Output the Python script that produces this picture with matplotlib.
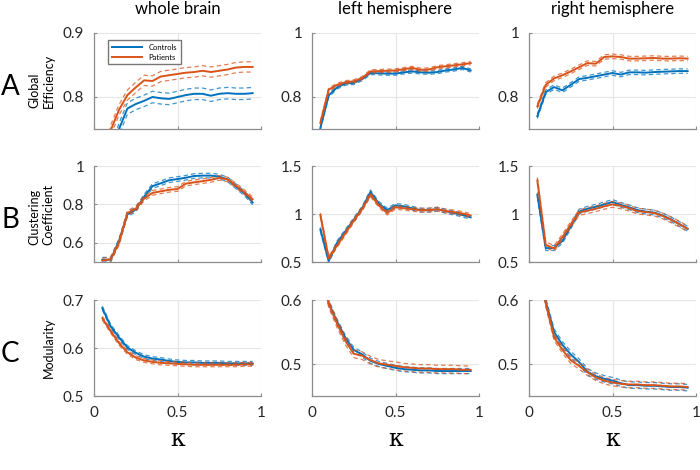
import numpy as np
import matplotlib.pyplot as plt

plt.rcParams['font.family'] = ['Lato', 'DejaVu Sans']

kappa = [0.05, 0.10, 0.15, 0.20, 0.25, 0.30, 0.35, 0.40, 0.45, 0.50,
         0.55, 0.60, 0.65, 0.70, 0.75, 0.80, 0.85, 0.90, 0.95]

# A: global efficiency
ge_whole_ctrl = [0.640, 0.710, 0.750, 0.782, 0.789, 0.794, 0.800, 0.798, 0.797, 0.800,
                 0.803, 0.805, 0.805, 0.802, 0.805, 0.806, 0.805, 0.805, 0.806]
ge_whole_pat = [0.680, 0.748, 0.780, 0.803, 0.815, 0.826, 0.825, 0.832, 0.834, 0.836,
                0.838, 0.839, 0.841, 0.839, 0.841, 0.843, 0.846, 0.847, 0.847]
ge_left_ctrl = [0.703, 0.805, 0.830, 0.842, 0.844, 0.856, 0.875, 0.874, 0.873, 0.873,
                0.877, 0.880, 0.877, 0.876, 0.878, 0.883, 0.886, 0.891, 0.883]
ge_left_pat = [0.719, 0.823, 0.838, 0.846, 0.849, 0.859, 0.880, 0.881, 0.882, 0.883,
               0.887, 0.891, 0.885, 0.886, 0.893, 0.896, 0.899, 0.902, 0.906]
ge_right_ctrl = [0.740, 0.815, 0.831, 0.821, 0.838, 0.856, 0.860, 0.865, 0.870, 0.875,
                 0.870, 0.877, 0.877, 0.876, 0.878, 0.879, 0.880, 0.881, 0.881]
ge_right_pat = [0.771, 0.838, 0.858, 0.868, 0.880, 0.893, 0.906, 0.904, 0.925, 0.927,
                0.925, 0.920, 0.920, 0.921, 0.922, 0.920, 0.920, 0.921, 0.920]

# B: clustering coefficient
cc_whole_ctrl = [0.512, 0.512, 0.610, 0.748, 0.773, 0.840, 0.895, 0.910, 0.926, 0.932,
                 0.939, 0.948, 0.950, 0.950, 0.945, 0.930, 0.894, 0.858, 0.810]
cc_whole_pat = [0.507, 0.515, 0.600, 0.755, 0.778, 0.830, 0.860, 0.868, 0.876, 0.880,
                0.908, 0.915, 0.921, 0.928, 0.938, 0.930, 0.898, 0.864, 0.827]
cc_left_ctrl = [0.84, 0.51, 0.70, 0.82, 0.94, 1.06, 1.23, 1.11, 1.04, 1.09,
                1.08, 1.06, 1.04, 1.04, 1.05, 1.03, 1.01, 0.99, 0.965]
cc_left_pat = [0.99, 0.54, 0.67, 0.80, 0.93, 1.05, 1.20, 1.09, 1.01, 1.07,
               1.06, 1.05, 1.04, 1.04, 1.05, 1.03, 1.02, 1.005, 0.985]
cc_right_ctrl = [1.20, 0.645, 0.645, 0.72, 0.87, 1.025, 1.055, 1.075, 1.10, 1.125,
                 1.095, 1.07, 1.04, 1.025, 1.015, 0.985, 0.945, 0.895, 0.846]
cc_right_pat = [1.35, 0.68, 0.64, 0.76, 0.89, 1.015, 1.035, 1.055, 1.08, 1.10,
                1.085, 1.06, 1.03, 1.02, 1.01, 0.98, 0.94, 0.895, 0.846]

# C: modularity
mod_whole_ctrl = [0.683, 0.645, 0.622, 0.601, 0.590, 0.582, 0.578, 0.576, 0.573, 0.571,
                  0.570, 0.570, 0.569, 0.569, 0.569, 0.568, 0.568, 0.568, 0.568]
mod_whole_pat = [0.662, 0.635, 0.610, 0.591, 0.580, 0.574, 0.571, 0.569, 0.568, 0.567,
                 0.566, 0.565, 0.565, 0.565, 0.565, 0.565, 0.565, 0.566, 0.566]
mod_left_ctrl = [0.670, 0.595, 0.566, 0.541, 0.522, 0.515, 0.505, 0.500, 0.497, 0.494,
                 0.492, 0.491, 0.490, 0.490, 0.489, 0.489, 0.489, 0.489, 0.489]
mod_left_pat = [0.670, 0.594, 0.563, 0.536, 0.516, 0.513, 0.506, 0.501, 0.499, 0.497,
                0.495, 0.494, 0.493, 0.493, 0.492, 0.492, 0.492, 0.491, 0.491]
mod_right_ctrl = [0.700, 0.598, 0.550, 0.530, 0.515, 0.503, 0.488, 0.481, 0.477, 0.474,
                  0.470, 0.467, 0.467, 0.466, 0.466, 0.465, 0.464, 0.464, 0.463]
mod_right_pat = [0.700, 0.595, 0.542, 0.522, 0.506, 0.497, 0.487, 0.479, 0.474, 0.471,
                 0.469, 0.468, 0.468, 0.467, 0.467, 0.466, 0.465, 0.465, 0.464]

# half-width of the dashed bands (controls, patients) per panel
band_ge = [(0.009, 0.008), (0.005, 0.005), (0.007, 0.007)]
band_cc = [(0.012, 0.012), (0.02, 0.02), (0.025, 0.03)]
band_mod = [(0.004, 0.004), (0.004, 0.006), (0.005, 0.005)]

col_titles = ['whole brain', 'left hemisphere', 'right hemisphere']
row_letters = ['A', 'B', 'C']
row_ylabels = ['Global\nEfficiency', 'Clustering\nCoefficient', 'Modularity']

rows = [
    [(ge_whole_ctrl, ge_whole_pat), (ge_left_ctrl, ge_left_pat), (ge_right_ctrl, ge_right_pat)],
    [(cc_whole_ctrl, cc_whole_pat), (cc_left_ctrl, cc_left_pat), (cc_right_ctrl, cc_right_pat)],
    [(mod_whole_ctrl, mod_whole_pat), (mod_left_ctrl, mod_left_pat), (mod_right_ctrl, mod_right_pat)],
]
bands = [band_ge, band_cc, band_mod]
ylims = [[(0.75, 0.9), (0.7, 1.0), (0.7, 1.0)],
         [(0.5, 1.0), (0.5, 1.5), (0.5, 1.5)],
         [(0.5, 0.7), (0.45, 0.6), (0.45, 0.6)]]
yticks = [[[0.8, 0.9], [0.8, 1.0], [0.8, 1.0]],
          [[0.6, 0.8, 1.0], [0.5, 1.0, 1.5], [0.5, 1.0, 1.5]],
          [[0.5, 0.6, 0.7], [0.5, 0.6], [0.5, 0.6]]]
ytlabels = [[['0.8', '0.9'], ['0.8', '1'], ['0.8', '1']],
            [['0.6', '0.8', '1'], ['0.5', '1', '1.5'], ['0.5', '1', '1.5']],
            [['0.5', '0.6', '0.7'], ['0.5', '0.6'], ['0.5', '0.6']]]

blue = '#0072BD'
orange = '#D95319'
W, H = 700, 470
lefts = [94, 312, 529]
tops = [33, 166, 300]
aw, ah = 167, 96

fig = plt.figure(figsize=(7, 4.7), dpi=100)
x = np.array(kappa)

for r in range(3):
    for c in range(3):
        ax = fig.add_axes([lefts[c] / W, 1 - (tops[r] + ah) / H, aw / W, ah / H])
        ctrl, pat = rows[r][c]
        bc, bp = bands[r][c]
        for vals, b, col, lab in [(ctrl, bc, blue, 'Controls'), (pat, bp, orange, 'Patients')]:
            v = np.array(vals)
            ax.plot(x, v, color=col, lw=1.4, label=lab)
            ax.plot(x, v + b, color=col, lw=0.9, ls=(0, (3.5, 2.5)), alpha=0.75)
            ax.plot(x, v - b, color=col, lw=0.9, ls=(0, (3.5, 2.5)), alpha=0.75)
        ax.set_xlim(0, 1)
        ax.set_ylim(*ylims[r][c])
        ax.set_xticks([0, 0.5, 1])
        ax.set_yticks(yticks[r][c])
        ax.set_yticklabels(ytlabels[r][c])
        if r == 2:
            ax.set_xticklabels(['0', '0.5', '1'])
            ax.set_xlabel('κ', fontsize=17, family='DejaVu Serif', labelpad=6)
        else:
            ax.set_xticklabels([])
        ax.grid(True, color='#e6e6e6', lw=0.8)
        ax.set_axisbelow(True)
        for s in ['top', 'right']:
            ax.spines[s].set_visible(False)
        for s in ['left', 'bottom']:
            ax.spines[s].set_color('#8c8c8c')
            ax.spines[s].set_linewidth(0.9)
        ax.tick_params(direction='in', length=2.5, color='#8c8c8c',
                       labelsize=11, labelcolor='#262626', pad=7)
        if r == 0:
            ax.set_title(col_titles[c], fontsize=12, pad=14)
        if c == 0:
            ax.set_ylabel(row_ylabels[r], fontsize=9, labelpad=6, multialignment='left')
            fig.text(10 / W, 1 - (tops[r] + ah / 2 + 6) / H, row_letters[r],
                     fontsize=20, ha='center', va='center')
        if r == 0 and c == 0:
            ax.legend(loc='upper left', bbox_to_anchor=(0.06, 0.97), fontsize=5.5,
                      frameon=True, fancybox=False, edgecolor='#555555',
                      handlelength=4, borderpad=0.5, labelspacing=0.4)

plt.savefig('out.png', dpi=100)
